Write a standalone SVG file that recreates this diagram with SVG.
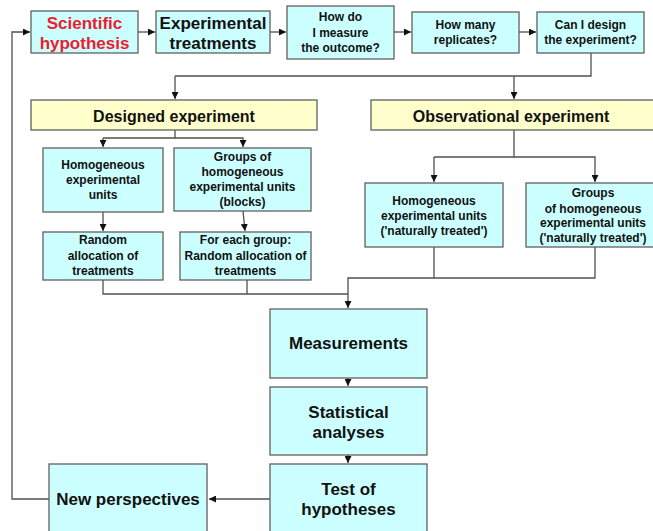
<svg xmlns="http://www.w3.org/2000/svg" width="653" height="531" viewBox="0 0 653 531">
<defs>
<marker id="ah" viewBox="0 0 8 8" refX="8" refY="4" markerWidth="7" markerHeight="7" markerUnits="userSpaceOnUse" orient="auto">
<path d="M0,0 L8,4 L0,8 z" fill="#111"/>
</marker>
</defs>
<style>
.box{fill:#ccffff;stroke:#606060;stroke-width:1.3}
.ybox{fill:#ffffcc;stroke:#606060;stroke-width:1.3}
text{font-family:"Liberation Sans",Arial,sans-serif;font-weight:bold;fill:#111;text-anchor:middle}
.big{font-size:17px}
.mid{font-size:16px}
.sm{font-size:12px}
.red{fill:#ee1c2e}
.c{fill:none;stroke:#505050;stroke-width:1.3}
.a{marker-end:url(#ah)}
</style>
<g id="connectors">
<path class="c a" d="M138,32 H155"/>
<path class="c a" d="M270,32 H286"/>
<path class="c a" d="M394,32 H411"/>
<path class="c a" d="M519,32 H536"/>
<path class="c" d="M591,53 V76 H175"/>
<path class="c a" d="M175,76 V99"/>
<path class="c a" d="M514,76 V99"/>
<path class="c" d="M175,130 V138 H103"/>
<path class="c a" d="M103,138 V147"/>
<path class="c a" d="M175,138 H243 V147"/>
<path class="c a" d="M103,212 V231"/>
<path class="c a" d="M243,211 L245,231"/>
<path class="c" d="M514,130 V157 H434"/>
<path class="c a" d="M434,157 V182"/>
<path class="c a" d="M514,157 H595 V182"/>
<path class="c" d="M103,280 V294 H348"/>
<path class="c" d="M247,280 V294"/>
<path class="c" d="M434,247 V278"/>
<path class="c" d="M595,247 V278 H348 V294"/>
<path class="c a" d="M348,294 V308"/>
<path class="c a" d="M348,378 V386"/>
<path class="c a" d="M348,455 V463"/>
<path class="c a" d="M270,499 H209"/>
<path class="c a" d="M49,499 H12 V32 H30"/>
</g>
<g id="n1"><rect class="box" x="31" y="11" width="107" height="42"/><text class="big red" x="84.5" y="28.5">Scientific</text><text class="big red" x="84.5" y="48.5">hypothesis</text></g>
<g id="n2"><rect class="box" x="156" y="11" width="114" height="42"/><text class="big" x="213" y="28.5">Experimental</text><text class="big" x="213" y="48.5">treatments</text></g>
<g id="n3"><rect class="box" x="287" y="6" width="107" height="53"/><text class="sm" x="340.5" y="21">How do</text><text class="sm" x="340.5" y="37">I measure</text><text class="sm" x="340.5" y="52">the outcome?</text></g>
<g id="n4"><rect class="box" x="412" y="12" width="107" height="41"/><text class="sm" x="465.5" y="29">How many</text><text class="sm" x="465.5" y="44">replicates?</text></g>
<g id="n5"><rect class="box" x="537" y="12" width="107" height="41"/><text class="sm" x="590.5" y="29">Can I design</text><text class="sm" x="590.5" y="44">the experiment?</text></g>
<g id="n6"><rect class="ybox" x="31" y="100" width="286" height="30"/><text class="mid" x="174" y="122">Designed experiment</text></g>
<g id="n7"><rect class="ybox" x="371" y="100" width="290" height="30"/><text class="mid" x="511" y="122">Observational experiment</text></g>
<g id="n8"><rect class="box" x="43" y="148" width="120" height="64"/><text class="sm" x="103" y="169">Homogeneous</text><text class="sm" x="103" y="184">experimental</text><text class="sm" x="103" y="199">units</text></g>
<g id="n9"><rect class="box" x="174" y="148" width="137" height="63"/><text class="sm" x="242.5" y="161">Groups of</text><text class="sm" x="242.5" y="176">homogeneous</text><text class="sm" x="242.5" y="191">experimental units</text><text class="sm" x="242.5" y="206">(blocks)</text></g>
<g id="n10"><rect class="box" x="43" y="232" width="120" height="48"/><text class="sm" x="103" y="244">Random</text><text class="sm" x="103" y="260">allocation of</text><text class="sm" x="103" y="275">treatments</text></g>
<g id="n11"><rect class="box" x="180" y="232" width="131" height="48"/><text class="sm" x="245.5" y="244">For each group:</text><text class="sm" x="245.5" y="260">Random allocation of</text><text class="sm" x="245.5" y="275">treatments</text></g>
<g id="n12"><rect class="box" x="365" y="183" width="138" height="64"/><text class="sm" x="434" y="205">Homogeneous</text><text class="sm" x="434" y="220">experimental units</text><text class="sm" x="434" y="235">('naturally treated')</text></g>
<g id="n13"><rect class="box" x="526" y="183" width="134" height="64"/><text class="sm" x="593" y="197">Groups</text><text class="sm" x="593" y="213">of homogeneous</text><text class="sm" x="593" y="227">experimental units</text><text class="sm" x="593" y="242">('naturally treated')</text></g>
<g id="n14"><rect class="box" x="270" y="309" width="157" height="69"/><text class="big" x="348.5" y="349">Measurements</text></g>
<g id="n15"><rect class="box" x="270" y="387" width="157" height="68"/><text class="big" x="348.5" y="418">Statistical</text><text class="big" x="348.5" y="438">analyses</text></g>
<g id="n16"><rect class="box" x="270" y="464" width="157" height="75"/><text class="big" x="348.5" y="495">Test of</text><text class="big" x="348.5" y="515">hypotheses</text></g>
<g id="n17"><rect class="box" x="49" y="464" width="158" height="75"/><text class="big" x="128" y="505">New perspectives</text></g>
</svg>
